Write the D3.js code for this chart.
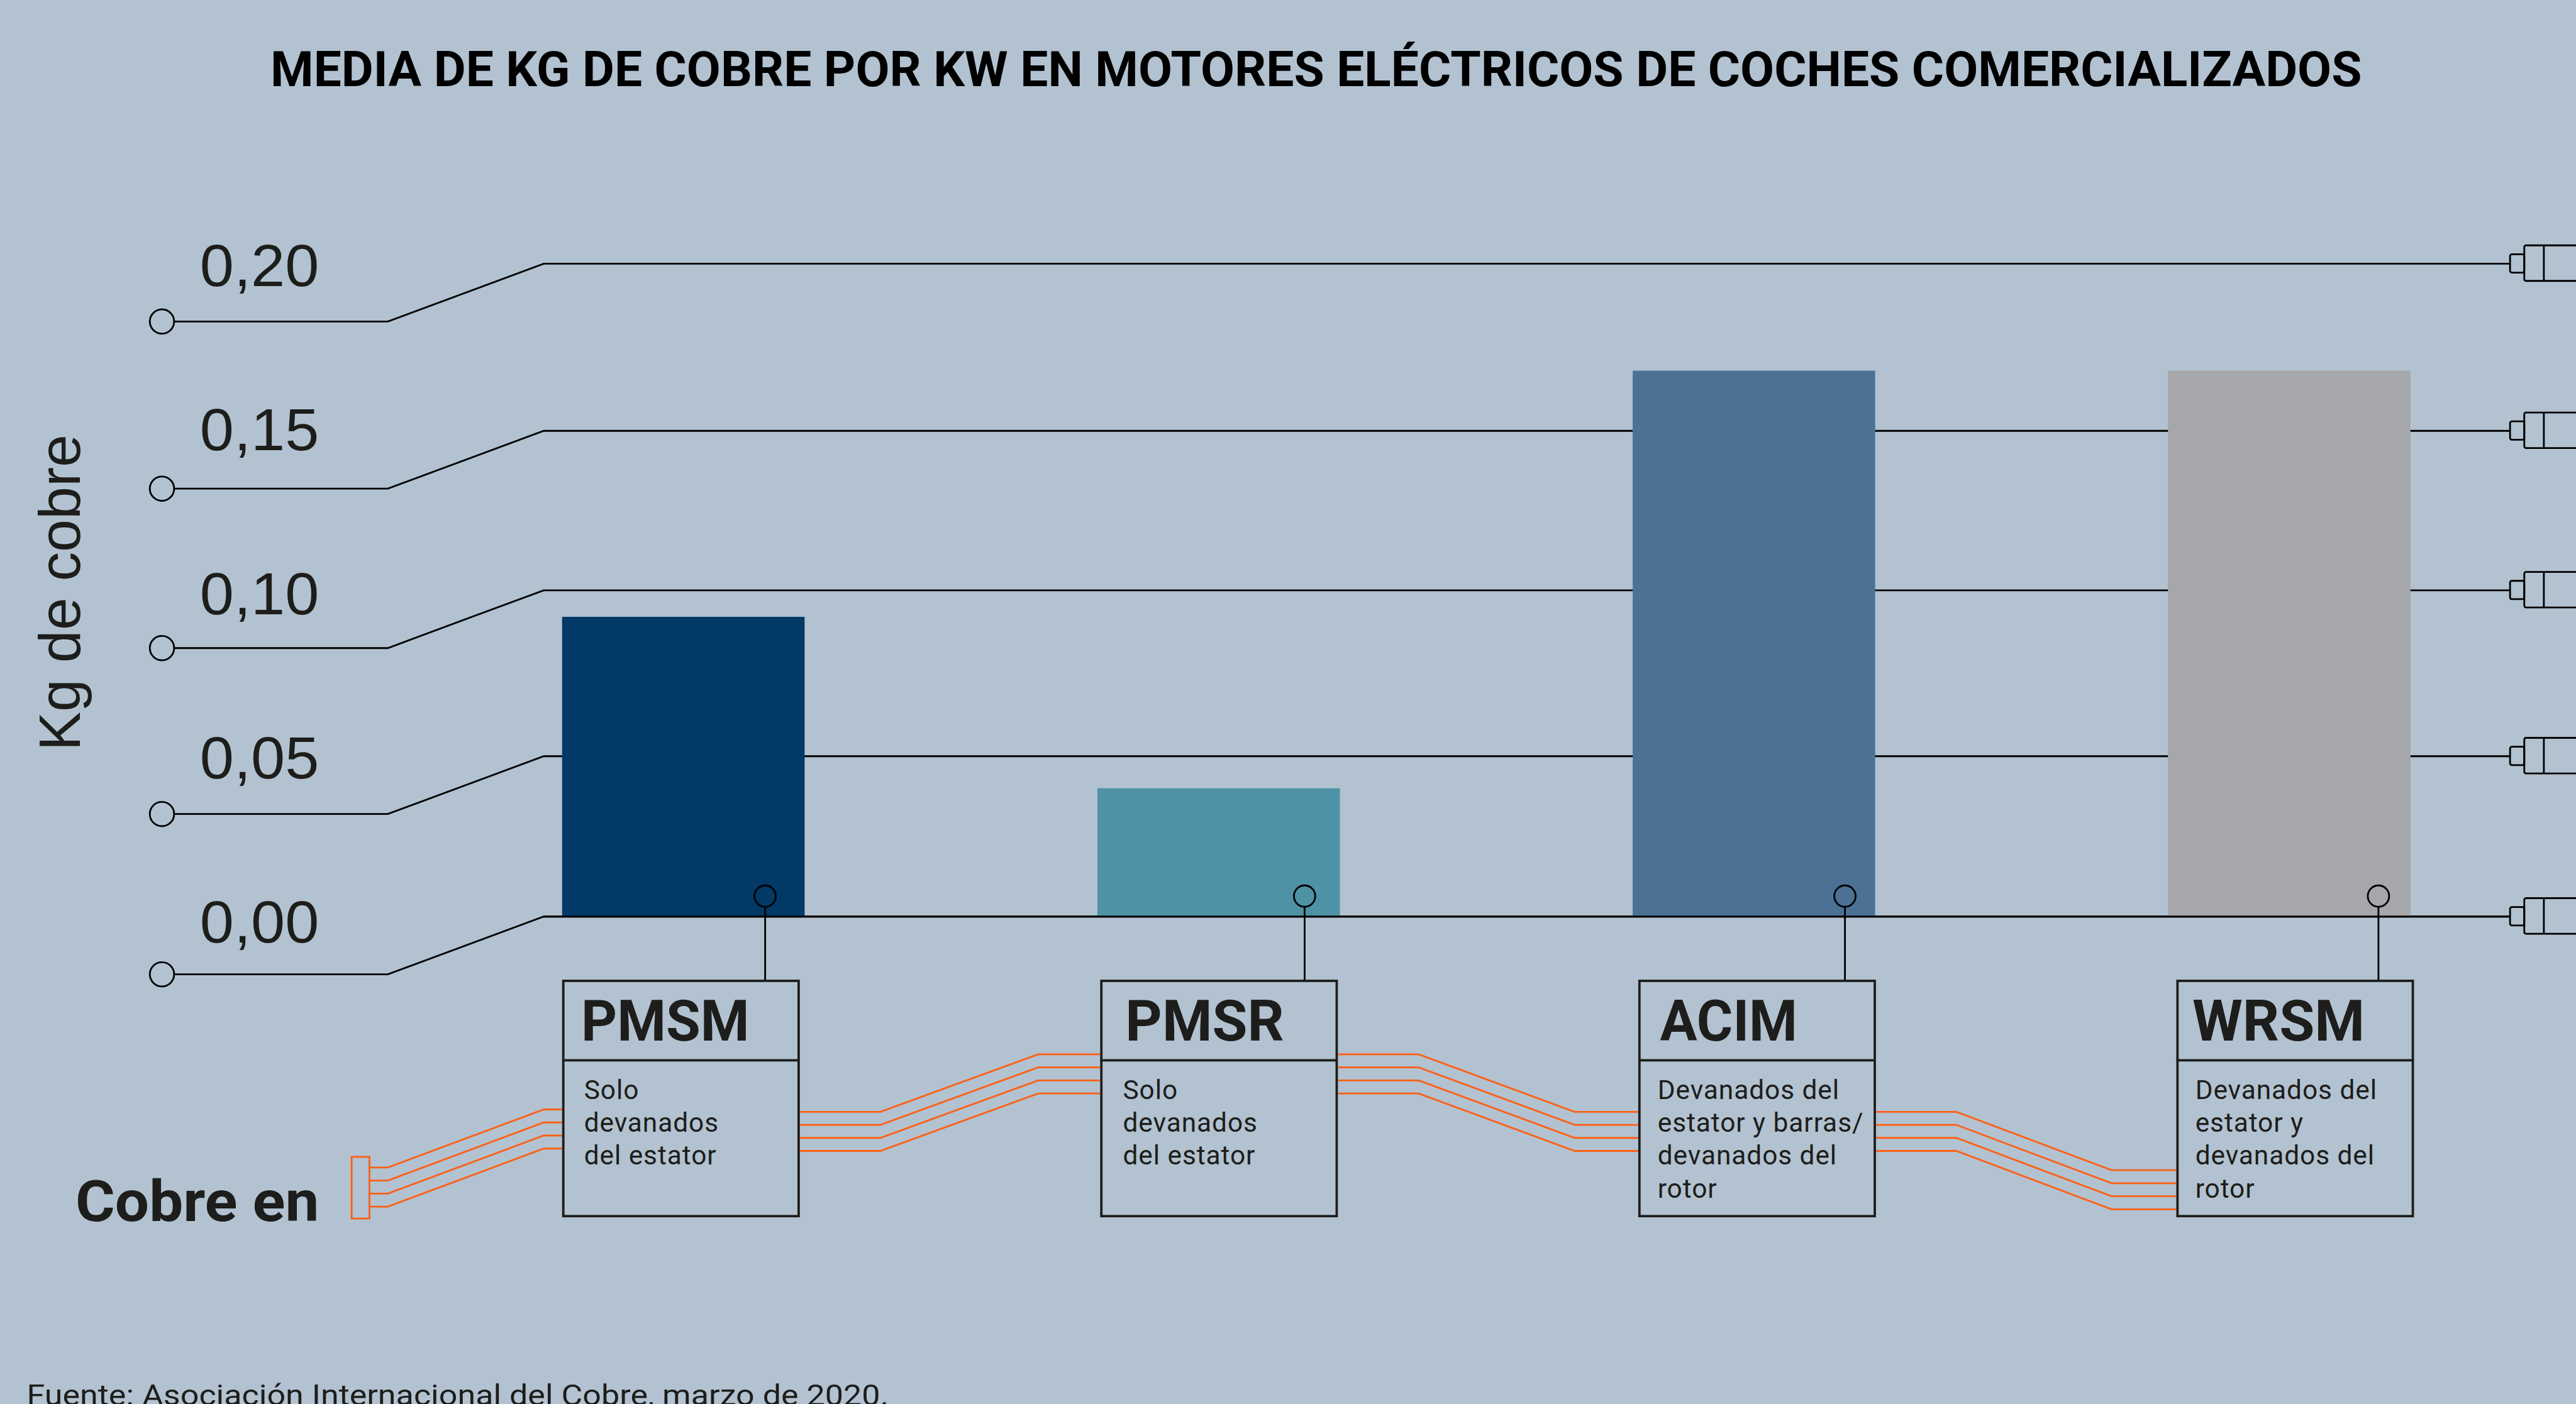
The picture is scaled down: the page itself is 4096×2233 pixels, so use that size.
<!DOCTYPE html>
<html>
<head>
<meta charset="utf-8">
<title>Media de kg de cobre por kW</title>
<script src="https://d3js.org/d3.v7.min.js"></script>
<style>
    html, body { margin: 0; padding: 0; background: #b2c2d0; overflow: hidden; }
    svg { display: block; }
    text { fill: #1d1d1b; font-family: Roboto, sans-serif; }
    .tick-label, .y-title { font-family: "Liberation Sans", Arial, sans-serif; }
    .heavy { font-weight: 700; }
</style>
</head>
<body>
<svg id="chart"></svg>
<script>
// datos
var motors = ["PMSM", "PMSR", "ACIM", "WRSM"];
var kgPerKw = [0.092, 0.040, 0.168, 0.168];
var barColors = ["#023966", "#4e93a5", "#4b7295", "#a6a7ab"];
var motorNotes = [
    ["Solo", "devanados", "del estator"],
    ["Solo", "devanados", "del estator"],
    ["Devanados del", "estator y barras/", "devanados del", "rotor"],
    ["Devanados del", "estator y", "devanados del", "rotor"]
];
var yTicks = [0, 0.05, 0.10, 0.15, 0.20];
var yTickLabels = ["0,00", "0,05", "0,10", "0,15", "0,20"];

var W = 4345, H = 2369;
var ink = "#000", dark = "#1d1d1b", copper = "#ff5f14";

var svg = d3.select("#chart")
    .attr("width", 4096).attr("height", 2233)
    .attr("viewBox", "0 0 " + W + " " + H);

// las lineas del original no estan del todo equidistantes
var y = d3.scaleLinear().domain(yTicks).range([1546.5, 1276, 996, 727, 445]);
var labelY = d3.scaleLinear().domain([0, 0.2]).range([1590, 483]);
var x = d3.scaleBand().domain(motors).range([948, 4066]).paddingInner(0.547).paddingOuter(0);
var boxX = d3.scalePoint().domain(motors).range([948, 3671]);

var pinX = [1290.5, 2200.5, 3112, 4012];
var nameX = [980, 1898, 2800, 3698];
var nameW = [284, 268, 232, 291];
var noteX = [985, 1894, 2796, 3703];

var line = d3.line();

// rejilla
var grid = svg.append("g").selectAll("g").data(yTicks).join("g");

grid.append("path")
    .attr("fill", "none").attr("stroke", ink).attr("stroke-width", 3)
    .attr("d", function(d) {
        return line([[294, y(d) + 97.5], [654, y(d) + 97.5], [917, y(d)], [4233, y(d)]]);
    });

grid.append("circle")
    .attr("cx", 273).attr("cy", function(d) { return y(d) + 97.5; }).attr("r", 20.5)
    .attr("fill", "none").attr("stroke", ink).attr("stroke-width", 3);

grid.append("rect")
    .attr("x", 4234).attr("y", function(d) { return y(d) - 16; })
    .attr("width", 24).attr("height", 31).attr("rx", 3)
    .attr("fill", "none").attr("stroke", ink).attr("stroke-width", 3);

grid.append("rect")
    .attr("x", 4258).attr("y", function(d) { return y(d) - 31; })
    .attr("width", 120).attr("height", 60).attr("rx", 3)
    .attr("fill", "none").attr("stroke", ink).attr("stroke-width", 3);

grid.append("line")
    .attr("x1", 4291).attr("x2", 4291)
    .attr("y1", function(d) { return y(d) - 31; }).attr("y2", function(d) { return y(d) + 29; })
    .attr("stroke", ink).attr("stroke-width", 3);

grid.append("text")
    .attr("class", "tick-label")
    .attr("x", 337).attr("y", labelY)
    .attr("font-size", 101)
    .attr("textLength", 201).attr("lengthAdjust", "spacingAndGlyphs")
    .text(function(d, i) { return yTickLabels[i]; });

// barras
svg.append("g").selectAll("rect").data(motors).join("rect")
    .attr("x", function(d) { return x(d); })
    .attr("y", function(d, i) { return y(kgPerKw[i]); })
    .attr("width", x.bandwidth())
    .attr("height", function(d, i) { return y(0) - y(kgPerKw[i]); })
    .attr("fill", function(d, i) { return barColors[i]; });

// linea del cero por encima de las barras
svg.append("path")
    .attr("fill", "none").attr("stroke", ink).attr("stroke-width", 3)
    .attr("d", line([[917, y(0)], [4233, y(0)]]));

// cableado de cobre
var rows = [0, 22, 44, 66];
var wires = [
    [[623, 1970], [654, 1970], [917, 1872], [948, 1872]],
    [[1347, 1876], [1485, 1876], [1751, 1779], [1856, 1779]],
    [[2257, 1779], [2393, 1779], [2656, 1876], [2765, 1876]],
    [[3164, 1876], [3300, 1876], [3562, 1974.5], [3671, 1974.5]]
];
var wireG = svg.append("g").attr("fill", "none").attr("stroke", copper).attr("stroke-width", 3);
wires.forEach(function(w) {
    rows.forEach(function(dy) {
        wireG.append("path").attr("d", line(w.map(function(p) { return [p[0], p[1] + dy]; })));
    });
});
wireG.append("rect").attr("x", 593).attr("y", 1952).attr("width", 30).attr("height", 104);

// cajas de motores
var box = svg.append("g").selectAll("g").data(motors).join("g");

box.append("path")
    .attr("fill", "none").attr("stroke", ink).attr("stroke-width", 3)
    .attr("d", function(d, i) { return line([[pinX[i], 1530], [pinX[i], 1654]]); });

box.append("circle")
    .attr("cx", function(d, i) { return pinX[i]; }).attr("cy", 1512).attr("r", 18)
    .attr("fill", "none").attr("stroke", ink).attr("stroke-width", 3);

box.append("rect")
    .attr("x", function(d) { return boxX(d) + 2; }).attr("y", 1655)
    .attr("width", 397).attr("height", 397)
    .attr("fill", "none").attr("stroke", dark).attr("stroke-width", 4);

box.append("line")
    .attr("x1", function(d) { return boxX(d); }).attr("x2", function(d) { return boxX(d) + 400; })
    .attr("y1", 1789).attr("y2", 1789)
    .attr("stroke", dark).attr("stroke-width", 4);

box.append("text")
    .attr("class", "heavy")
    .attr("x", function(d, i) { return nameX[i]; }).attr("y", 1756)
    .attr("font-size", 97)
    .attr("textLength", function(d, i) { return nameW[i]; })
    .attr("lengthAdjust", "spacingAndGlyphs")
    .text(function(d) { return d; });

box.each(function(d, i) {
    d3.select(this).selectAll("text.note").data(motorNotes[i]).join("text")
        .attr("class", "note")
        .attr("x", noteX[i])
        .attr("y", function(t, k) { return 1854 + k * 55.5; })
        .attr("font-size", 45)
        .attr("letter-spacing", 1)
        .text(function(t) { return t; });
});

// textos sueltos
svg.append("text")
    .attr("class", "heavy")
    .attr("x", 456).attr("y", 145)
    .attr("font-size", 82)
    .attr("textLength", 3528).attr("lengthAdjust", "spacingAndGlyphs")
    .style("fill", "#000")
    .text("MEDIA DE KG DE COBRE POR KW EN MOTORES ELÉCTRICOS DE COCHES COMERCIALIZADOS");

svg.append("text")
    .attr("class", "y-title")
    .attr("transform", "translate(134.5,1267) rotate(-90)")
    .attr("font-size", 99)
    .text("Kg de cobre");

svg.append("text")
    .attr("class", "heavy")
    .attr("x", 127).attr("y", 2060)
    .attr("font-size", 97)
    .attr("textLength", 411).attr("lengthAdjust", "spacingAndGlyphs")
    .text("Cobre en");

svg.append("text")
    .attr("x", 45).attr("y", 2371)
    .attr("font-size", 50)
    .attr("textLength", 1454).attr("lengthAdjust", "spacingAndGlyphs")
    .text("Fuente: Asociación Internacional del Cobre, marzo de 2020.");
</script>
</body>
</html>
